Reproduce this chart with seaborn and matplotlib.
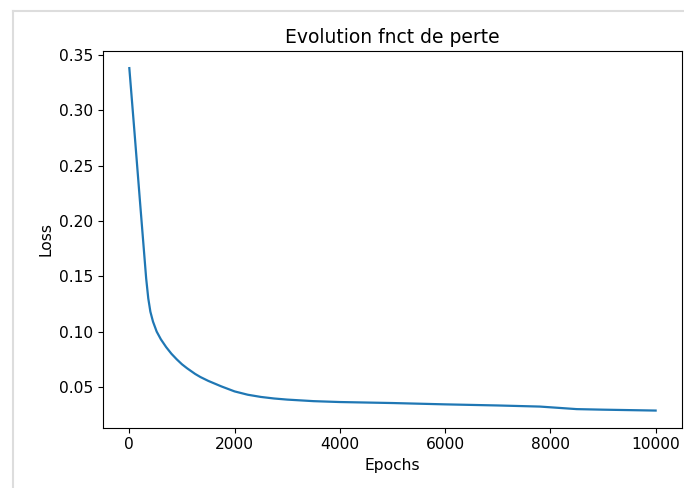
import numpy as np
import pandas as pd
import matplotlib
matplotlib.use("Agg")
import matplotlib.pyplot as plt
import seaborn as sns
from matplotlib.lines import Line2D

# valeurs
epochs = [0, 100, 200, 320, 360, 400, 450, 520, 600, 700, 800, 900, 1000,
          1100, 1250, 1350, 1500, 1750, 2000, 2250, 2500, 2750, 3000, 3500,
          4000, 5000, 6000, 7000, 7800, 8200, 8500, 9000, 10000]
loss = [0.338, 0.279, 0.219, 0.148, 0.130, 0.118, 0.109, 0.100, 0.093, 0.086,
        0.080, 0.075, 0.0705, 0.0668, 0.0618, 0.0590, 0.0555, 0.0505, 0.0460,
        0.0430, 0.0410, 0.0396, 0.0386, 0.0372, 0.0364, 0.0355, 0.0343,
        0.0333, 0.0323, 0.0310, 0.0300, 0.0295, 0.0287]

df = pd.DataFrame({"Epochs": epochs, "Loss": loss})

fig = plt.figure(figsize=(6.84, 4.88), dpi=100)
ax = fig.add_axes([0.1506, 0.1236, 0.997 - 0.1506, 0.8955 - 0.1236])
sns.lineplot(data=df, x="Epochs", y="Loss", ax=ax, color="#1f77b4", linewidth=1.6)

ax.set_title("Evolution fnct de perte", fontsize=13.5)
ax.set_xlabel("Epochs", fontsize=11.2)
ax.set_ylabel("Loss", fontsize=11.2)
ax.set_xticks([0, 2000, 4000, 6000, 8000, 10000])
ax.set_yticks([0.05, 0.10, 0.15, 0.20, 0.25, 0.30, 0.35])
ax.tick_params(labelsize=11.2)

# cadre gris du notebook
fig.add_artist(Line2D([13 / 684, 1], [1 - 11 / 488, 1 - 11 / 488],
                      transform=fig.transFigure, color="#dddddd", linewidth=1.5))
fig.add_artist(Line2D([13 / 684, 13 / 684], [0, 1 - 11 / 488],
                      transform=fig.transFigure, color="#dddddd", linewidth=1.5))

fig.savefig("out.png", dpi=100)
